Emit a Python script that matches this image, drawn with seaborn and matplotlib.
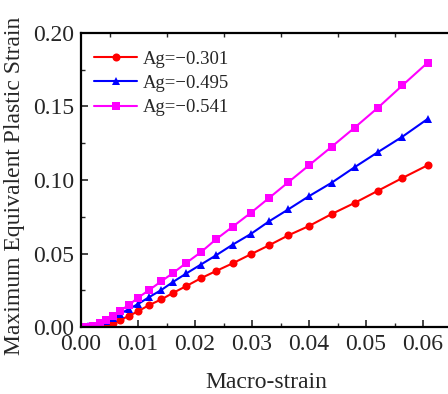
import numpy as np
import pandas as pd
import seaborn as sns
import matplotlib
matplotlib.use("Agg")
import matplotlib.pyplot as plt
from matplotlib.ticker import MultipleLocator

strain = [0.0, 0.0006, 0.0012, 0.0021, 0.0033, 0.0044, 0.0056, 0.0069, 0.0084,
          0.0100, 0.0119, 0.0141, 0.0162, 0.0185, 0.0210, 0.0237, 0.0266, 0.0298,
          0.0330, 0.0364, 0.0400, 0.0440, 0.0480, 0.0521, 0.0564, 0.0608]
peeq_301 = [0.0, 0.0, 0.0, 0.0, 0.0003, 0.0010, 0.0025, 0.0048, 0.0075,
            0.0107, 0.0148, 0.0188, 0.0233, 0.0279, 0.0331, 0.0381, 0.0433, 0.0495,
            0.0556, 0.0624, 0.0687, 0.0769, 0.0844, 0.0927, 0.1014, 0.1100]
peeq_495 = [0.0, 0.0003, 0.0005, 0.0010, 0.0022, 0.0040, 0.0062, 0.0090, 0.0122,
            0.0156, 0.0202, 0.0252, 0.0308, 0.0365, 0.0424, 0.0488, 0.0560, 0.0633,
            0.0719, 0.0801, 0.0890, 0.0982, 0.1087, 0.1190, 0.1295, 0.1415]
peeq_541 = [0.0, 0.0, 0.0003, 0.0007, 0.0025, 0.0048, 0.0075, 0.0111, 0.0150,
            0.0199, 0.0250, 0.0311, 0.0369, 0.0437, 0.0508, 0.0597, 0.0682, 0.0777,
            0.0878, 0.0986, 0.1100, 0.1227, 0.1356, 0.1492, 0.1644, 0.1798]
series_labels = ["Ag=\u22120.301", "Ag=\u22120.495", "Ag=\u22120.541"]

df = pd.concat([
    pd.DataFrame({"strain": strain, "peeq": v, "series": lab})
    for v, lab in zip([peeq_301, peeq_495, peeq_541], series_labels)
], ignore_index=True)

sns.set_style("ticks")
plt.rcParams["font.family"] = ["Liberation Serif", "DejaVu Serif"]

fig = plt.figure(figsize=(4.48, 3.94), dpi=100)
ax = fig.add_axes([81/448, 67/394, 370.5/448, 294/394])

palette = {series_labels[0]: "#FF0000", series_labels[1]: "#0000FF", series_labels[2]: "#FF00FF"}
markers = {series_labels[0]: "o", series_labels[1]: "^", series_labels[2]: "s"}
msizes = {series_labels[0]: 5.8, series_labels[1]: 6.2, series_labels[2]: 5.2}
sns.lineplot(data=df, x="strain", y="peeq", hue="series", style="series",
             palette=palette, markers=markers, dashes=False,
             markeredgewidth=0, linewidth=1.5, ax=ax, sort=False)

for line, lab in zip(ax.get_lines()[:3], series_labels):
    line.set_markersize(msizes[lab])

ax.set_xlim(0, 0.065)
ax.set_ylim(0, 0.20)
ax.xaxis.set_major_locator(MultipleLocator(0.01))
ax.xaxis.set_minor_locator(MultipleLocator(0.005))
ax.yaxis.set_major_locator(MultipleLocator(0.05))
ax.yaxis.set_minor_locator(MultipleLocator(0.025))
ax.xaxis.set_major_formatter(matplotlib.ticker.FormatStrFormatter("%.2f"))
ax.yaxis.set_major_formatter(matplotlib.ticker.FormatStrFormatter("%.2f"))
ax.tick_params(which="major", direction="in", length=5, width=1.2, labelsize=17, pad=5,
               top=False, right=False)
ax.tick_params(which="minor", direction="in", length=3, width=1.0, top=True, right=False)
for s in ax.spines.values():
    s.set_linewidth(1.6)
    s.set_color("black")

ax.set_xlabel("Macro-strain", fontsize=17, labelpad=12)
ax.set_ylabel("Maximum Equivalent Plastic Strain", fontsize=17)
ax.yaxis.set_label_coords(-0.15, 0.48)

leg = ax.legend(loc="upper left", bbox_to_anchor=(0.0, 0.985), frameon=False,
                fontsize=13.5, handlelength=2.3, handletextpad=0.3,
                labelspacing=0.38, borderaxespad=0.3)
for h, lab in zip(leg.legend_handles, series_labels):
    h.set_markersize(msizes[lab])

fig.savefig("out.png", dpi=100)
